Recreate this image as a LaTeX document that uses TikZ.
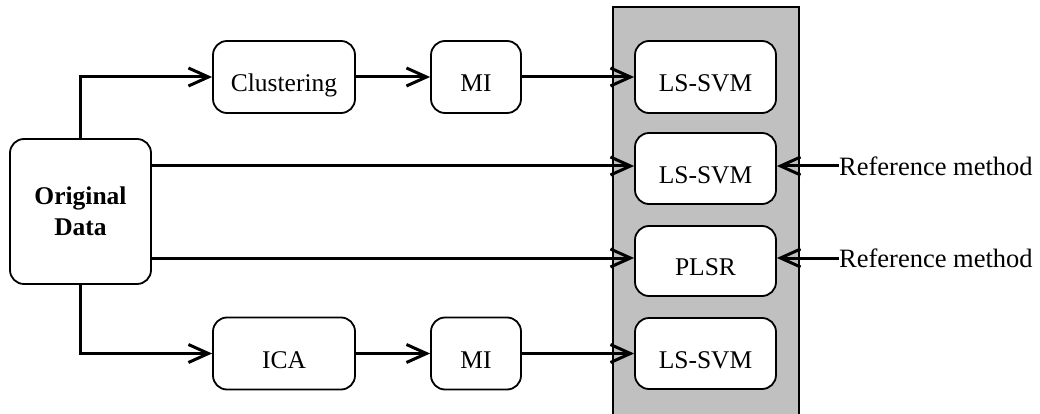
\documentclass[tikz,border=0pt]{standalone}
\usepackage{fontspec}
\setmainfont{Liberation Serif}
\usetikzlibrary{arrows.meta}
\definecolor{colgray}{RGB}{192,192,192}
\tikzset{
  box/.style={draw=black, line width=1.8pt, rounded corners=14pt, fill=white, inner sep=0pt,
    font=\fontsize{25.5}{30}\selectfont, text height=29pt, text depth=0pt},
  conn/.style={line width=3pt, -{Straight Barb[length=20pt,width=18pt,line width=3pt]}},
}
\begin{document}
\begin{tikzpicture}[x=1pt,y=-1pt]
\useasboundingbox (0,0) rectangle (1040,414);
\fill[colgray] (613,7) rectangle (799,416);
\draw[line width=1.8pt] (613,416) -- (613,7) -- (799,7) -- (799,416);

\node[draw=black, line width=1.8pt, rounded corners=14pt, fill=white, inner sep=0pt,
  minimum width=141pt, minimum height=145pt, align=center,
  font=\fontsize{25.5}{31}\selectfont\bfseries] (orig) at (80.5,211.5) {Original\\Data};
\node[box, minimum width=142pt, minimum height=72pt] (clus) at (284,77) {Clustering};
\node[box, minimum width=90pt, minimum height=72pt] (mi1) at (476,77) {MI};
\node[box, minimum width=142pt, minimum height=72pt] (ica) at (284,353.5) {ICA};
\node[box, minimum width=90pt, minimum height=72pt] (mi2) at (476,353.5) {MI};
\node[box, minimum width=141pt, minimum height=72pt] (ls1) at (705.5,77) {LS-SVM};
\node[box, minimum width=141pt, minimum height=71pt] (ls2) at (705.5,168.5) {LS-SVM};
\node[box, minimum width=141pt, minimum height=70pt] (plsr) at (705.5,261) {PLSR};
\node[box, minimum width=141pt, minimum height=71pt] (ls3) at (705.5,353.5) {LS-SVM};

\node[anchor=west, inner sep=0pt, font=\fontsize{26.5}{30}\selectfont] (ref1) at (839,166) {Reference method};
\node[anchor=west, inner sep=0pt, font=\fontsize{26.5}{30}\selectfont] (ref2) at (839,258) {Reference method};

\draw[conn] (orig.north) |- (clus.west);
\draw[conn] (orig.south) |- (ica.west);
\draw[conn] (clus.east) -- (mi1.west);
\draw[conn] (ica.east) -- (mi2.west);
\draw[conn] (mi1.east) -- (ls1.west);
\draw[conn] (mi2.east) -- (ls3.west);
\draw[conn] (orig.east |- 0,166) -- (ls2.west |- 0,166);
\draw[conn] (orig.east |- 0,258) -- (plsr.west |- 0,258);
\draw[conn] (ref1.west) -- (ls2.east |- ref1.west);
\draw[conn] (ref2.west) -- (plsr.east |- ref2.west);
\end{tikzpicture}
\end{document}
